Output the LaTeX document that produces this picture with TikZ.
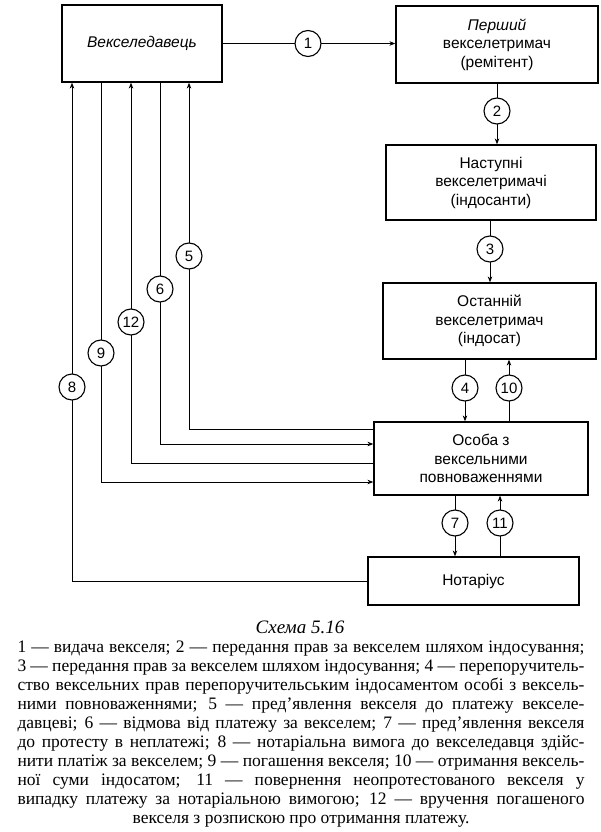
\documentclass[tikz,border=0pt]{standalone}
\usepackage{fontspec}
\setmainfont{Liberation Serif}
\setsansfont{Liberation Sans}
\usetikzlibrary{arrows.meta}
\tikzset{
  box/.style={draw, line width=1.2pt, font=\sffamily\fontsize{15.5}{18.5}\selectfont, align=center, inner sep=0pt},
  num/.style={circle, draw, fill=white, line width=1.1pt, minimum size=26pt, inner sep=0pt, font=\sffamily\fontsize{15}{15}\selectfont},
  arr/.style={line width=1pt, -{Stealth[length=6pt,width=4.5pt]}},
}
\begin{document}
\begin{tikzpicture}[x=1pt,y=-1pt]
\useasboundingbox[fill=white] (0,0) rectangle (600,832);
% boxes
\node[box, minimum width=160pt, minimum height=77pt] (A) at (142,43.5) {\itshape Векселедавець};
\node[box, minimum width=202pt, minimum height=77pt] (B) at (497,44.5) {\itshape Перший\\векселетримач\\(ремітент)};
\node[box, minimum width=210pt, minimum height=75pt] (C) at (491,182.5) {Наступні\\векселетримачі\\(індосанти)};
\node[box, minimum width=213pt, minimum height=76pt] (D) at (489.5,321) {Останній\\векселетримач\\(індосат)};
\node[box, minimum width=214pt, minimum height=73pt] (E) at (481,458.5) {Особа з\\вексельними\\повноваженнями};
\node[box, minimum width=211pt, minimum height=48pt] (F) at (473.5,581) {Нотаріус};
% coordinates
\coordinate (v2) at (497,0);
\coordinate (v3) at (490,0);
\coordinate (v4) at (465,0);
\coordinate (v10) at (509,0);
\coordinate (v7) at (455,0);
\coordinate (v11) at (500,0);
\coordinate (k5) at (189,429);
\coordinate (k6) at (160,444);
\coordinate (k12) at (131,463);
\coordinate (k9) at (101,482);
\coordinate (k8) at (72,581);
% connectors
\draw[arr] (A.east) -- (A.east -| B.west);
\draw[arr] (B.south -| v2) -- (C.north -| v2);
\draw[arr] (C.south -| v3) -- (D.north -| v3);
\draw[arr] (D.south -| v4) -- (E.north -| v4);
\draw[arr] (E.north -| v10) -- (D.south -| v10);
\draw[arr] (E.south -| v7) -- (F.north -| v7);
\draw[arr] (F.north -| v11) -- (E.south -| v11);
\draw[arr] (E.west |- k5) -- (k5) -- (A.south -| k5);
\draw[arr] (A.south -| k6) -- (k6) -- (E.west |- k6);
\draw[arr] (E.west |- k12) -- (k12) -- (A.south -| k12);
\draw[arr] (A.south -| k9) -- (k9) -- (E.west |- k9);
\draw[arr] (F.west |- k8) -- (k8) -- (A.south -| k8);
% circles
\node[num] (n1) at (308,43.5) {1};
\node[num] (n2) at (497,111) {2};
\node[num] (n3) at (490,249) {3};
\node[num] (n4) at (465,388) {4};
\node[num] (n10) at (509,388) {10};
\node[num] (n7) at (455,523) {7};
\node[num] (n11) at (500,523) {11};
\node[num] (n5) at (189,256) {5};
\node[num] (n6) at (160,289) {6};
\node[num] (n12) at (131,322) {12};
\node[num] (n9) at (101,353) {9};
\node[num] (n8) at (72,387) {8};
% caption
\node[anchor=base, inner sep=0pt, font=\itshape\fontsize{19}{19}\selectfont] (cap) at (300,633) {Схема 5.16};
\node[anchor=base, inner sep=0pt] (leg) at (301,652) {\parbox[t]{567pt}{\fontsize{17.5}{19}\selectfont
\parindent=0pt \parfillskip=0pt \tolerance=10000 \hyphenpenalty=10000 \exhyphenpenalty=10000
1 — видача векселя; 2 — передання прав за векселем шляхом індосування;\linebreak
3 — передання прав за векселем шляхом індосування; 4 — перепоручитель-\linebreak
ство вексельних прав перепоручительським індосаментом особі з вексель-\linebreak
ними повноваженнями; 5 — пред’явлення векселя до платежу векселе-\linebreak
давцеві; 6 — відмова від платежу за векселем; 7 — пред’явлення векселя\linebreak
до протесту в неплатежі; 8 — нотаріальна вимога до векселедавця здійс-\linebreak
нити платіж за векселем; 9 — погашення векселя; 10 — отримання вексель-\linebreak
ної суми індосатом; 11 — повернення неопротестованого векселя у\linebreak
випадку платежу за нотаріальною вимогою; 12 — вручення погашеного\par
\centering векселя з розпискою про отримання платежу.\par}};
\end{tikzpicture}
\end{document}
